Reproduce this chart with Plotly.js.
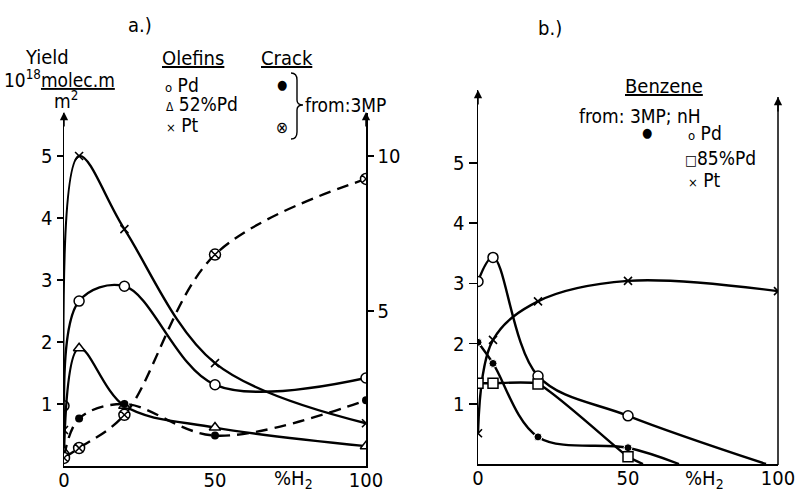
<!DOCTYPE html>
<html>
<head>
<meta charset="utf-8">
<script src="https://cdn.plot.ly/plotly-3.0.1.min.js"></script>
<style>html,body{margin:0;padding:0;background:#fff;}#chart{width:799px;height:491px;}</style>
</head>
<body>
<div id="chart"></div>
<script>
// ---------- data ----------
// Panel a: yields vs %H2
var xA = [0, 5, 20, 50, 100];
var olefinPd = [0.97, 2.66, 2.90, 1.31, 1.42];
var olefin52Pd = [0.23, 1.90, 0.97, 0.62, 0.32];
var olefinPt = [0.58, 5.00, 3.82, 1.66, 0.69];
// cracking from 3MP (right-hand scale)
var crackPd = [0.30, 1.53, 2.00, 0.98, 2.12];
var crack52Pd = [0.26, 0.58, 1.65, 6.82, 9.26];

// Panel b: benzene
var xBPd = [0, 5, 20, 50, 96];
var benzPd = [3.03, 3.43, 1.46, 0.80, 0];
var xB85 = [0, 5, 20, 50, 55];
var benz85Pd = [1.34, 1.34, 1.33, 0.12, 0];
var xBPt = [0, 5, 20, 50, 100];
var benzPt = [0.51, 2.06, 2.70, 3.04, 2.87];
var xB3MP = [0, 5, 20, 50, 67];
var benz3MP = [2.02, 1.67, 0.45, 0.27, 0];

var ticksA = [1, 2, 3, 4, 5];
var ticksA2 = [5, 10];
var ticksX = [0, 50, 100];
var ticksB = [1, 2, 3, 4, 5];

// ---------- helpers ----------
var W = 799, H = 491;
function px(x){return x / W;}
function py(y){return 1 - y / H;}
var FONT = 'DejaVu Sans Condensed, Liberation Sans, Arial, sans-serif';

function sizes(n, s, lastHidden){
  var a = [];
  for (var i = 0; i < n; i++) a.push(s);
  if (lastHidden) a[n-1] = 0;
  return a;
}
var LW = 2.4;

var traces = [
  {x: xA, y: olefinPd, mode: 'lines+markers', xaxis: 'x', yaxis: 'y',
   line: {color: '#000', width: LW, shape: 'spline', smoothing: 1},
   marker: {symbol: 'circle', size: 10, color: '#fff', opacity: 1, line: {color: '#000', width: 1.5}}},
  {x: xA, y: olefin52Pd, mode: 'lines+markers', xaxis: 'x', yaxis: 'y',
   line: {color: '#000', width: LW, shape: 'spline', smoothing: 1},
   marker: {symbol: 'triangle-up', size: 10, color: '#fff', opacity: 1, line: {color: '#000', width: 1.5}}},
  {x: xA, y: olefinPt, mode: 'lines+markers', xaxis: 'x', yaxis: 'y',
   line: {color: '#000', width: LW, shape: 'spline', smoothing: 1},
   marker: {symbol: 'x-thin', size: 8, color: '#000', opacity: 1, line: {color: '#000', width: 1.6}}},
  {x: xA, y: crackPd, mode: 'lines+markers', xaxis: 'x', yaxis: 'y2',
   line: {color: '#000', width: LW, shape: 'spline', smoothing: 1, dash: '12px,7px'},
   marker: {symbol: 'circle', size: 8, color: '#000', opacity: 1}},
  {x: xA, y: crack52Pd, mode: 'lines+markers', xaxis: 'x', yaxis: 'y2',
   line: {color: '#000', width: LW, shape: 'spline', smoothing: 1, dash: '12px,7px'},
   marker: {symbol: 'circle-x', size: 11, color: '#fff', opacity: 1, line: {color: '#000', width: 1.5}}},

  {x: xBPd, y: benzPd, mode: 'lines+markers', xaxis: 'x2', yaxis: 'y3',
   line: {color: '#000', width: LW, shape: 'spline', smoothing: 1},
   marker: {symbol: 'circle', size: sizes(5, 10, true), color: '#fff', opacity: 1, line: {color: '#000', width: 1.5}}},
  {x: xBPt, y: benzPt, mode: 'lines+markers', xaxis: 'x2', yaxis: 'y3',
   line: {color: '#000', width: LW, shape: 'spline', smoothing: 1},
   marker: {symbol: 'x-thin', size: 8, color: '#000', opacity: 1, line: {color: '#000', width: 1.6}}},
  {x: xB3MP, y: benz3MP, mode: 'lines+markers', xaxis: 'x2', yaxis: 'y3',
   line: {color: '#000', width: LW, shape: 'spline', smoothing: 1},
   marker: {symbol: 'circle', size: sizes(5, 8, true), color: '#000', opacity: 1}},
  {x: xB85, y: benz85Pd, mode: 'lines+markers', xaxis: 'x2', yaxis: 'y3',
   line: {color: '#000', width: LW, shape: 'spline', smoothing: 0.5},
   marker: {symbol: 'square', size: sizes(5, 10, true), color: '#fff', opacity: 1, line: {color: '#000', width: 1.5}}}
];

var axBase = {showgrid: false, zeroline: false, showline: true, linecolor: '#000', linewidth: 1.5,
  tickfont: {family: FONT, size: 20, color: '#000'}, tickcolor: '#000', tickwidth: 1.5, fixedrange: true};

function ax(extra){ var o = {}; for (var k in axBase) o[k] = axBase[k]; for (var k2 in extra) o[k2] = extra[k2]; return o; }

function ann(text, x, y, opts){
  var o = {text: text, x: px(x), y: py(y), xref: 'paper', yref: 'paper', showarrow: false,
    xanchor: 'center', yanchor: 'middle', font: {family: FONT, size: 20, color: '#000'}};
  if (opts) for (var k in opts) { if (k === 'size') o.font.size = opts[k]; else o[k] = opts[k]; }
  return o;
}
function arrow(x, y){
  return {text: '', x: px(x), y: py(y), xref: 'paper', yref: 'paper', showarrow: true,
    ax: 0, ay: 16, arrowhead: 2, arrowsize: 1.1, arrowwidth: 1.5, arrowcolor: '#000'};
}

var annotations = [
  ann('a.)', 140, 25),
  ann('Yield', 47, 57),
  ann('10<sup>18</sup><u>molec.m</u>', 2, 79, {xanchor: 'left', size: 19}),
  ann('m<sup>2</sup>', 66, 100, {size: 19}),
  ann('<u>Olefins</u>', 193, 58),
  ann('<u>Crack</u>', 287, 58),
  ann('<span style="font-size:13px">o</span> Pd', 163, 85, {xanchor: 'left', size: 19}),
  ann('<span style="font-size:12px">Δ</span> 52%Pd', 164, 104, {xanchor: 'left', size: 19}),
  ann('<span style="font-size:13px">×</span> Pt', 164, 125, {xanchor: 'left', size: 19}),
  ann('●', 282, 85, {size: 13}),
  ann('⊗', 282, 127, {size: 16}),
  ann('from:3MP', 303, 105, {xanchor: 'left', size: 19}),
  ann('%H<sub>2</sub>', 293, 479),

  ann('b.)', 550, 28),
  ann('<u>Benzene</u>', 664, 86),
  ann('from: 3MP; nH', 640, 116, {size: 19}),
  ann('●', 647, 133, {size: 13}),
  ann('<span style="font-size:13px">o</span> Pd', 686, 133, {xanchor: 'left', size: 19}),
  ann('<span style="font-size:14px">□</span>85%Pd', 683, 158, {xanchor: 'left', size: 19}),
  ann('<span style="font-size:13px">×</span> Pt', 686, 180, {xanchor: 'left', size: 19}),
  ann('%H<sub>2</sub>', 704, 479),

  arrow(64, 112), arrow(366, 112), arrow(478, 90), arrow(778, 97)
];

function P(x, y){ return px(x).toFixed(5) + ',' + py(y).toFixed(5); }
var bracePath = 'M' + P(291, 73) + ' Q' + P(297, 73) + ' ' + P(297, 80) + ' L' + P(297, 100) +
  ' Q' + P(297, 105) + ' ' + P(303, 105) + ' Q' + P(297, 105) + ' ' + P(297, 110) +
  ' L' + P(297, 132) + ' Q' + P(297, 139) + ' ' + P(291, 139);

var shapes = [
  {type: 'path', xref: 'paper', yref: 'paper', path: bracePath, line: {color: '#000', width: 1.4}},
  {type: 'line', xref: 'paper', yref: 'paper', x0: px(778), x1: px(778), y0: py(465), y1: py(97),
   line: {color: '#000', width: 1.5}}
];

var layout = {
  width: W, height: H, margin: {l: 0, r: 0, t: 0, b: 0},
  paper_bgcolor: '#fff', plot_bgcolor: 'rgba(0,0,0,0)', showlegend: false,
  font: {family: FONT, color: '#000'},
  xaxis: ax({domain: [px(64), px(366)], range: [0, 100], tickvals: ticksX, ticks: '', anchor: 'y', ticklabelstandoff: -5}),
  yaxis: ax({domain: [py(466), py(112.6)], range: [0, 5.7], tickvals: ticksA, ticks: 'outside', ticklen: 6, anchor: 'x'}),
  yaxis2: ax({overlaying: 'y', side: 'right', range: [0, 11.4], tickvals: ticksA2, ticks: 'outside', ticklen: 6, anchor: 'x'}),
  xaxis2: ax({domain: [px(478), px(778)], range: [0, 100], tickvals: ticksX, ticks: '', anchor: 'y3', ticklabelstandoff: -5}),
  yaxis3: ax({domain: [py(464), py(90)], range: [0, 6.21], tickvals: ticksB, ticks: 'outside', ticklen: 8, anchor: 'x2'}),
  annotations: annotations,
  shapes: shapes
};

Plotly.newPlot('chart', traces, layout, {staticPlot: true});
</script>
</body>
</html>
